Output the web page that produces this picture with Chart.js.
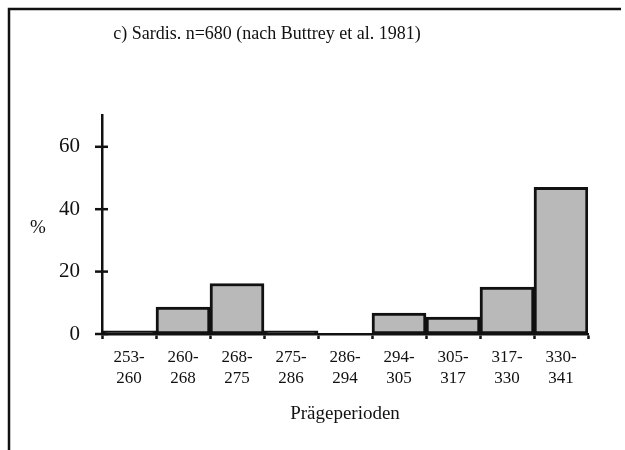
<!DOCTYPE html>
<html>
<head>
<meta charset="utf-8">
<script src="https://cdn.jsdelivr.net/npm/chart.js@4"></script>
<style>
  html, body { margin: 0; padding: 0; background: #fff; }
  #wrap { width: 625px; height: 450px; position: relative; }
</style>
</head>
<body>
<div id="wrap"><canvas id="sardisChart" width="625" height="450"></canvas></div>
<script>
    // --- 데이터 ---
    const periodLabels = [
        ['253-', '260'], ['260-', '268'], ['268-', '275'], ['275-', '286'], ['286-', '294'],
        ['294-', '305'], ['305-', '317'], ['317-', '330'], ['330-', '341']
    ];
    const percentValues = [1, 8.6, 16.2, 1, 0, 6.7, 5.4, 15, 47];
    const yTickValues = [0, 20, 40, 60];
    const chartTitle = 'c) Sardis. n=680 (nach Buttrey et al. 1981)';

    const serif = "'Liberation Serif', 'Times New Roman', serif";

    // 외곽 테두리, 제목, y축 눈금, '%' 라벨을 그리는 플러그인
    const framePlugin = {
        id: 'frame',
        afterDraw(chart) {
            const ctx = chart.ctx;
            const yScale = chart.scales.y;
            const area = chart.chartArea;
            ctx.save();
            ctx.strokeStyle = '#111';
            ctx.lineWidth = 2.5;
            ctx.beginPath();
            ctx.moveTo(9, 450);
            ctx.lineTo(9, 9);
            ctx.lineTo(621, 9);
            ctx.stroke();

            yTickValues.forEach(v => {
                const py = yScale.getPixelForValue(v);
                ctx.beginPath();
                ctx.moveTo(area.left - 7, py);
                ctx.lineTo(area.left + 6, py);
                ctx.stroke();
            });

            ctx.fillStyle = '#111';
            ctx.textAlign = 'center';
            ctx.textBaseline = 'middle';
            ctx.font = '18px ' + serif;
            ctx.fillText(chartTitle, 267, 34);
            ctx.font = '19px ' + serif;
            ctx.fillText('%', 38, (area.top + area.bottom) / 2 + 3);
            ctx.restore();
        }
    };

    new Chart(document.getElementById('sardisChart').getContext('2d'), {
        type: 'bar',
        data: {
            labels: periodLabels,
            datasets: [{
                data: percentValues,
                // 아주 낮은 막대는 원본처럼 굵은 검은 선으로 보이게
                backgroundColor: ctx => (ctx.raw < 2 ? '#111' : '#b9b9b9'),
                borderColor: '#111',
                borderWidth: 3,
                borderSkipped: false,
                categoryPercentage: 1,
                barPercentage: 1
            }]
        },
        options: {
            responsive: false,
            animation: false,
            devicePixelRatio: 1,
            layout: { padding: { top: 0, right: 37, bottom: 0, left: 0 } },
            plugins: {
                legend: { display: false },
                tooltip: { enabled: false },
                // 제목은 플러그인에서 그리고, 여기서는 자리만 잡는다
                title: {
                    display: true,
                    text: chartTitle,
                    color: 'rgba(0,0,0,0)',
                    font: { family: serif, size: 18, weight: 'normal' },
                    padding: { top: 23, bottom: 71 }
                }
            },
            scales: {
                x: {
                    grid: {
                        display: true,
                        offset: true,
                        drawOnChartArea: false,
                        drawTicks: true,
                        tickLength: 5,
                        tickWidth: 2.5,
                        color: '#111'
                    },
                    border: { display: true, color: '#111', width: 2.5 },
                    ticks: {
                        color: '#111',
                        font: { family: serif, size: 17, lineHeight: 1.24 },
                        padding: 8,
                        maxRotation: 0,
                        autoSkip: false
                    },
                    title: {
                        display: true,
                        text: 'Prägeperioden',
                        color: '#111',
                        font: { family: serif, size: 19 },
                        padding: { top: 0, bottom: 25 }
                    },
                    afterFit(scale) { scale.height = 116; }
                },
                y: {
                    min: 0,
                    max: 70,
                    grid: { display: false },
                    border: { display: true, color: '#111', width: 2.5 },
                    ticks: {
                        stepSize: 20,
                        color: '#111',
                        font: { family: serif, size: 21 },
                        padding: 14
                    },
                    afterBuildTicks(scale) {
                        scale.ticks = yTickValues.map(v => ({ value: v }));
                    },
                    afterFit(scale) { scale.width = 102; }
                }
            }
        },
        plugins: [framePlugin]
    });
</script>
</body>
</html>
